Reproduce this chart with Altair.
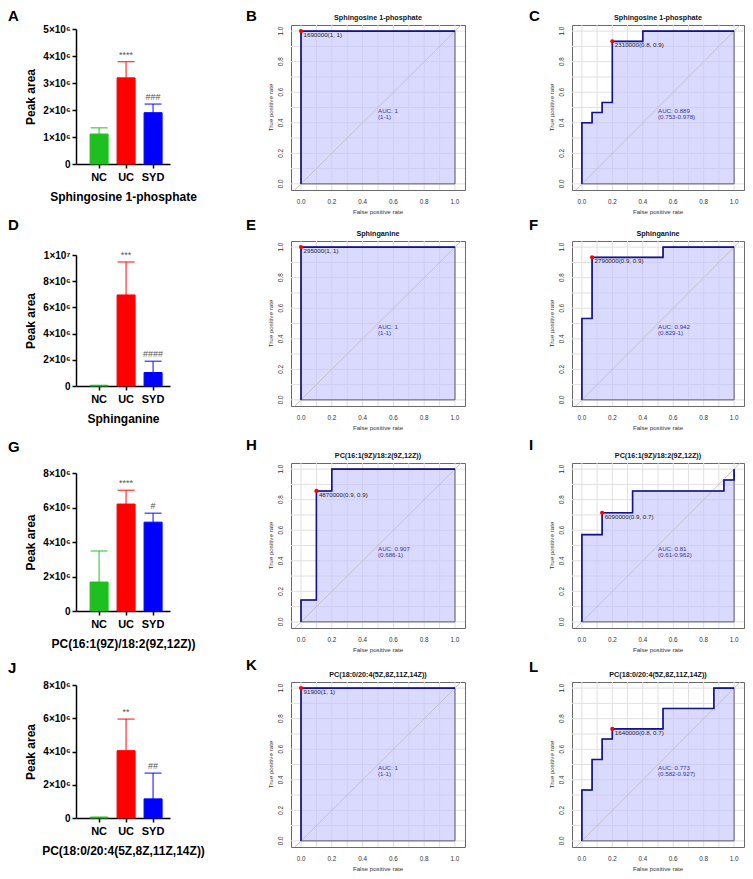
import altair as alt
import pandas as pd

FONT = "Liberation Sans"

# ---------------- bar-chart data ----------------
groups = ["NC", "UC", "SYD"]
bar_colors = ["#1FBF1F", "#FF0000", "#0000FF"]
compounds = ["Sphingosine 1-phosphate", "Sphinganine",
             "PC(16:1(9Z)/18:2(9Z,12Z))", "PC(18:0/20:4(5Z,8Z,11Z,14Z))"]
bar_means = [[1.11e6, 3.19e6, 1.90e6],
             [0.04e6, 6.95e6, 1.03e6],
             [1.68e6, 6.20e6, 5.15e6],
             [0.04e6, 4.05e6, 1.15e6]]
bar_sds = [[0.23e6, 0.60e6, 0.32e6],
           [0.01e6, 2.52e6, 0.86e6],
           [1.80e6, 0.80e6, 0.52e6],
           [0.01e6, 1.90e6, 1.55e6]]
bar_sig = [["", "****", "###"], ["", "***", "####"], ["", "****", "#"], ["", "**", "##"]]
bar_ymax = [5e6, 1e7, 8e6, 8e6]
bar_yticks = [[0, 1e6, 2e6, 3e6, 4e6, 5e6],
              [0, 2e6, 4e6, 6e6, 8e6, 1e7],
              [0, 2e6, 4e6, 6e6, 8e6],
              [0, 2e6, 4e6, 6e6, 8e6]]
bar_letters = ["A", "D", "G", "J"]

# ---------------- ROC data (column 2) ----------------
roc1_fpr = [[0, 0, 1], [0, 0, 1], [0, 0, 0.1, 0.2, 1], [0, 0, 1]]
roc1_tpr = [[0, 1, 1], [0, 1, 1], [0, 0.143, 0.857, 1, 1], [0, 1, 1]]
roc1_thr_fpr = [0, 0, 0.1, 0]
roc1_thr_tpr = [1, 1, 0.857, 1]
roc1_thr_label = ["1690000(1, 1)", "295000(1, 1)", "4870000(0.9, 0.9)", "91900(1, 1)"]
roc1_auc = ["1", "1", "0.907", "1"]
roc1_ci = ["1-1", "1-1", "0.686-1", "1-1"]
roc1_letters = ["B", "E", "H", "K"]

# ---------------- ROC data (column 3) ----------------
roc2_fpr = [[0, 0, 0.067, 0.133, 0.2, 0.4, 1],
            [0, 0, 0.067, 0.533, 1],
            [0, 0, 0.133, 0.333, 0.933, 1],
            [0, 0, 0.067, 0.133, 0.2, 0.533, 0.867, 1]]
roc2_tpr = [[0, 0.4, 0.467, 0.533, 0.933, 1, 1],
            [0, 0.533, 0.933, 1, 1],
            [0, 0.571, 0.714, 0.857, 0.929, 1],
            [0, 0.333, 0.533, 0.667, 0.733, 0.867, 1, 1]]
roc2_thr_fpr = [0.2, 0.067, 0.133, 0.2]
roc2_thr_tpr = [0.933, 0.933, 0.714, 0.733]
roc2_thr_label = ["2310000(0.8, 0.9)", "2790000(0.9, 0.9)", "6090000(0.9, 0.7)", "1640000(0.8, 0.7)"]
roc2_auc = ["0.889", "0.942", "0.81", "0.773"]
roc2_ci = ["0.753-0.978", "0.829-1", "0.61-0.962", "0.582-0.927"]
roc2_letters = ["C", "F", "I", "L"]

grid_vals = [0, 0.1, 0.2, 0.3, 0.4, 0.5, 0.6, 0.7, 0.8, 0.9, 1.0]
label_vals = [0, 0.2, 0.4, 0.6, 0.8, 1.0]
label_text = ["0.0", "0.2", "0.4", "0.6", "0.8", "1.0"]
diag = [-0.04, 1.04]

# ---------------- layout (pixels) ----------------
BAR_W = 108
ROC_W = [174, 172]
ROC_H = 165
row_h = [176, 182, 179, 165]
bar_range = [(139, 4), (145, 14), (148, 10), (136, 3)]
letter_y = [[-4, -4, -4], [-11, -11, -11], [-11, -13, -13], [-9, -12, -10]]
letter_x = [-68, -45, -43]


def letter_layer(letter, x, y):
    return alt.Chart(pd.DataFrame({"t": [letter]})).mark_text(
        align="left", baseline="alphabetic", fontSize=15, fontWeight="bold",
        font=FONT, color="black"
    ).encode(x=alt.value(x), y=alt.value(y), text="t:N")


def bar_panel(i):
    df = pd.DataFrame({"group": groups, "mean": bar_means[i], "sd": bar_sds[i], "sig": bar_sig[i]})
    rbot, rtop = bar_range[i]
    H = row_h[i]
    xs = alt.Scale(domain=groups, range=[0, 94], paddingInner=0.333, paddingOuter=0.407, align=0.64)
    ys = alt.Scale(domain=[0, bar_ymax[i]], range=[rbot, rtop], nice=False, zero=True)
    xaxis = alt.Axis(title=compounds[i], labelAngle=0, offset=rbot - H,
                     labelFont=FONT, labelFontSize=11, labelFontWeight="bold", labelColor="black",
                     titleFont=FONT, titleFontSize=12, titleFontWeight="bold", titleColor="black",
                     domainColor="black", domainWidth=1.5, tickColor="black", tickWidth=1.5,
                     tickSize=4, labelPadding=3, titlePadding=9)
    yaxis = alt.Axis(title="Peak area", values=bar_yticks[i], grid=False, labelOverlap=False,
                     labelExpr="datum.value == 0 ? '0' : (datum.value >= 1e7 ? format(datum.value/1e7, 'd') + '×10⁷' : format(datum.value/1e6, 'd') + '×10⁶')",
                     labelFont=FONT, labelFontSize=10, labelFontWeight="bold", labelColor="black",
                     titleFont=FONT, titleFontSize=12, titleFontWeight="bold", titleColor="black",
                     domainColor="black", domainWidth=1.5, tickColor="black", tickWidth=1.5,
                     tickSize=4, labelPadding=2, titlePadding=5)
    cscale = alt.Scale(domain=groups, range=bar_colors)
    base = alt.Chart(df).transform_calculate(upper="datum.mean + datum.sd")
    X = alt.X("group:N", scale=xs, axis=xaxis, sort=groups)
    bars = base.mark_bar(strokeWidth=1).encode(
        x=X, y=alt.Y("mean:Q", scale=ys, axis=yaxis),
        color=alt.Color("group:N", scale=cscale, legend=None),
        stroke=alt.Stroke("group:N", scale=cscale, legend=None))
    err = base.mark_rule(strokeWidth=1.3, opacity=0.75).encode(
        x=X, y=alt.Y("mean:Q", scale=ys, axis=yaxis), y2="upper:Q",
        color=alt.Color("group:N", scale=cscale, legend=None))
    cap = base.mark_tick(thickness=1.3, size=17, opacity=0.75).encode(
        x=X, y=alt.Y("upper:Q", scale=ys, axis=yaxis),
        color=alt.Color("group:N", scale=cscale, legend=None))
    sig = base.mark_text(fontSize=9, font=FONT, color="#555555", baseline="middle", dy=-7).encode(
        x=X, y=alt.Y("upper:Q", scale=ys, axis=yaxis), text="sig:N")
    let = letter_layer(bar_letters[i], letter_x[0], letter_y[i][0])
    return alt.layer(bars, err, cap, sig, let).properties(
        width=BAR_W, height=H, view=alt.ViewBackground(strokeWidth=0))


def roc_panel(fpr, tpr, tfpr, ttpr, tlab, auc, ci, title, letter, W, lx, ly):
    df = pd.DataFrame({"fpr": fpr, "tpr": tpr, "idx": list(range(len(fpr)))})
    xs = alt.Scale(domain=[-0.065, 1.065], nice=False, zero=False)
    ys = alt.Scale(domain=[-0.04, 1.04], nice=False, zero=False)
    X = alt.X("fpr:Q", scale=xs, axis=None)
    Y = alt.Y("tpr:Q", scale=ys, axis=None)
    gdf = pd.DataFrame({"g": grid_vals})
    gx = alt.Chart(gdf).mark_rule(color="#E0E0E0", strokeWidth=1).encode(
        x=alt.X("g:Q", scale=xs, axis=None))
    gy = alt.Chart(gdf).mark_rule(color="#E0E0E0", strokeWidth=1).encode(
        y=alt.Y("g:Q", scale=ys, axis=None))
    ldf = pd.DataFrame({"v": label_vals, "t": label_text})
    xl = alt.Chart(ldf).mark_text(fontSize=6.3, font=FONT, color="#333333",
                                  baseline="middle", align="center").encode(
        x=alt.X("v:Q", scale=xs, axis=None), y=alt.value(ROC_H + 12), text="t:N")
    yl = alt.Chart(ldf).mark_text(fontSize=6.3, font=FONT, color="#333333", angle=270,
                                  baseline="middle", align="center").encode(
        y=alt.Y("v:Q", scale=ys, axis=None), x=alt.value(-10), text="t:N")
    xt = alt.Chart(pd.DataFrame({"t": ["False positive rate"]})).mark_text(
        fontSize=6.2, font=FONT, color="#333333", baseline="middle", align="center"
    ).encode(x=alt.value(W / 2), y=alt.value(ROC_H + 22), text="t:N")
    yt = alt.Chart(pd.DataFrame({"t": ["True positive rate"]})).mark_text(
        fontSize=6.2, font=FONT, color="#333333", angle=270, baseline="middle", align="center"
    ).encode(x=alt.value(-20), y=alt.value(ROC_H / 2), text="t:N")
    base = alt.Chart(df)
    area = base.transform_filter("datum.idx > 0").mark_area(
        interpolate="step-after", color="#C4C4FF", fillOpacity=0.62,
        stroke="#5A5A70", strokeWidth=1, strokeOpacity=1
    ).encode(x=X, y=Y, y2=alt.Y2Datum(0))
    dg = alt.Chart(pd.DataFrame({"d": diag})).mark_line(color="#BEBEBE", strokeWidth=0.9).encode(
        x=alt.X("d:Q", scale=xs, axis=None), y=alt.Y("d:Q", scale=ys, axis=None))
    line = base.mark_line(interpolate="step-after", color="#14148C", strokeWidth=1.6).encode(
        x=X, y=Y, order="idx:Q")
    tdf = pd.DataFrame({"fpr": [tfpr], "tpr": [ttpr], "lab": [tlab]})
    pt = alt.Chart(tdf).mark_circle(color="red", size=18, opacity=1).encode(x=X, y=Y)
    ptxt = alt.Chart(tdf).mark_text(align="left", baseline="middle", dx=2.5, dy=4, fontSize=6.2,
                                    font=FONT, color="#222222").encode(x=X, y=Y, text="lab:N")
    a1 = alt.Chart(pd.DataFrame({"t": ["AUC: " + auc]})).mark_text(
        align="left", baseline="middle", fontSize=6.2, font=FONT, color="#3434A0"
    ).encode(x=alt.XDatum(0.5, scale=xs, axis=None), y=alt.YDatum(0.48, scale=ys, axis=None),
             text="t:N")
    a2 = alt.Chart(pd.DataFrame({"t": ["(" + ci + ")"]})).mark_text(
        align="left", baseline="middle", fontSize=6.2, font=FONT, color="#3434A0"
    ).encode(x=alt.XDatum(0.5, scale=xs, axis=None), y=alt.YDatum(0.44, scale=ys, axis=None),
             text="t:N")
    ttl = alt.Chart(pd.DataFrame({"t": [title]})).mark_text(
        align="center", baseline="middle", fontSize=7.2, fontWeight="bold", font=FONT, color="#111111"
    ).encode(x=alt.value(W / 2), y=alt.value(-7), text="t:N")
    let = letter_layer(letter, lx, ly)
    return alt.layer(gx, gy, area, dg, line, pt, ptxt, a1, a2, xl, yl, xt, yt, ttl, let).properties(
        width=W, height=ROC_H,
        view=alt.ViewBackground(stroke="#6A6A6A", strokeWidth=1))


panels = []
for i in range(4):
    panels.append(bar_panel(i))
    panels.append(roc_panel(roc1_fpr[i], roc1_tpr[i], roc1_thr_fpr[i], roc1_thr_tpr[i],
                            roc1_thr_label[i], roc1_auc[i], roc1_ci[i], compounds[i],
                            roc1_letters[i], ROC_W[0], letter_x[1], letter_y[i][1]))
    panels.append(roc_panel(roc2_fpr[i], roc2_tpr[i], roc2_thr_fpr[i], roc2_thr_tpr[i],
                            roc2_thr_label[i], roc2_auc[i], roc2_ci[i], compounds[i],
                            roc2_letters[i], ROC_W[1], letter_x[2], letter_y[i][2]))

chart = alt.concat(*panels, columns=3, spacing={"row": 40, "column": 107},
                   bounds="flush", align="each", padding=0).configure_view(strokeWidth=0)

chart.save("out.html", embed_options={"renderer": "svg", "actions": False})
